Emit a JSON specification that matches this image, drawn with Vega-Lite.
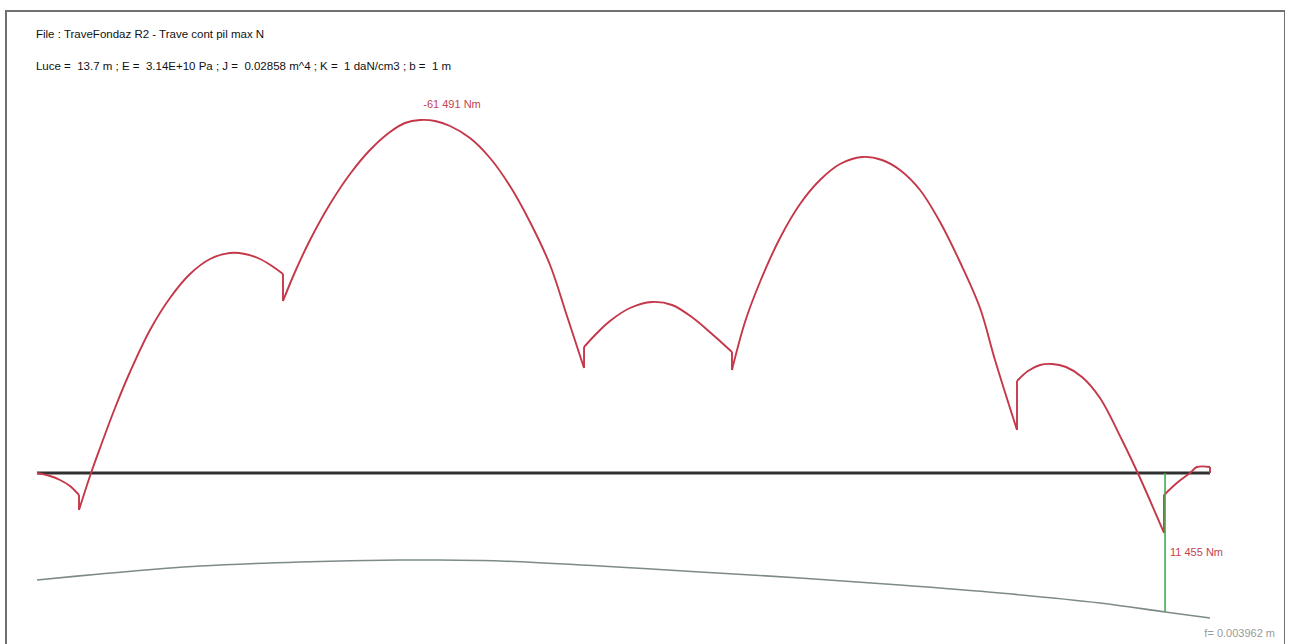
{
  "$schema": "https://vega.github.io/schema/vega-lite/v6.json",
  "width": 1279,
  "height": 640,
  "autosize": "none",
  "padding": {"left": 6, "top": 11, "right": 0, "bottom": 0},
  "background": "white",
  "config": {
    "view": {"stroke": "#707070", "strokeWidth": 2},
    "font": "Liberation Sans"
  },
  "datasets": {
    "moment": [
      {"seg":0,"x":0,"M":0},{"seg":0,"x":0.152,"M":523},{"seg":0,"x":0.269,"M":1219},{"seg":0,"x":0.385,"M":2265},{"seg":0,"x":0.4905,"M":3832},
      {"seg":1,"x":0.4905,"M":6445},{"seg":1,"x":0.619,"M":523},{"seg":1,"x":0.736,"M":-4355},{"seg":1,"x":0.911,"M":-11323},{"seg":1,"x":1.086,"M":-17594},
      {"seg":1,"x":1.320,"M":-24911},{"seg":1,"x":1.553,"M":-30485},{"seg":1,"x":1.787,"M":-34666},{"seg":1,"x":2.021,"M":-37279},{"seg":1,"x":2.254,"M":-38324},
      {"seg":1,"x":2.429,"M":-38150},{"seg":1,"x":2.605,"M":-37279},{"seg":1,"x":2.745,"M":-36059},{"seg":1,"x":2.873,"M":-34666},
      {"seg":2,"x":2.873,"M":-29962},{"seg":2,"x":3.013,"M":-35014},{"seg":2,"x":3.189,"M":-40589},{"seg":2,"x":3.422,"M":-46860},{"seg":2,"x":3.656,"M":-52086},
      {"seg":2,"x":3.889,"M":-56267},{"seg":2,"x":4.123,"M":-59402},{"seg":2,"x":4.298,"M":-60970},{"seg":2,"x":4.473,"M":-61491},{"seg":2,"x":4.649,"M":-61318},
      {"seg":2,"x":4.824,"M":-60447},{"seg":2,"x":5.057,"M":-58357},{"seg":2,"x":5.291,"M":-54873},{"seg":2,"x":5.524,"M":-49995},{"seg":2,"x":5.758,"M":-43724},
      {"seg":2,"x":5.992,"M":-36234},{"seg":2,"x":6.190,"M":-27349},{"seg":2,"x":6.389,"M":-18291},
      {"seg":3,"x":6.389,"M":-21949},{"seg":3,"x":6.541,"M":-24388},{"seg":3,"x":6.692,"M":-26478},{"seg":3,"x":6.926,"M":-28743},{"seg":3,"x":7.183,"M":-29788},
      {"seg":3,"x":7.417,"M":-29267},{"seg":3,"x":7.662,"M":-27000},{"seg":3,"x":7.884,"M":-24214},{"seg":3,"x":8.117,"M":-21078},
      {"seg":4,"x":8.117,"M":-17943},{"seg":4,"x":8.269,"M":-26304},{"seg":4,"x":8.444,"M":-33272},{"seg":4,"x":8.678,"M":-40937},{"seg":4,"x":8.912,"M":-46860},
      {"seg":4,"x":9.145,"M":-51041},{"seg":4,"x":9.379,"M":-53828},{"seg":4,"x":9.636,"M":-55047},{"seg":4,"x":9.869,"M":-54525},{"seg":4,"x":10.079,"M":-52783},
      {"seg":4,"x":10.313,"M":-49299},{"seg":4,"x":10.547,"M":-43724},{"seg":4,"x":10.780,"M":-36756},{"seg":4,"x":11.014,"M":-28743},{"seg":4,"x":11.189,"M":-19685},
      {"seg":4,"x":11.446,"M":-7491},
      {"seg":5,"x":11.446,"M":-16026},{"seg":5,"x":11.574,"M":-17768},{"seg":5,"x":11.715,"M":-18814},{"seg":5,"x":11.855,"M":-18988},{"seg":5,"x":12.018,"M":-18465},
      {"seg":5,"x":12.205,"M":-16723},{"seg":5,"x":12.415,"M":-13065},{"seg":5,"x":12.672,"M":-5749},{"seg":5,"x":12.883,"M":871},{"seg":5,"x":13.163,"M":10452},
      {"seg":6,"x":13.163,"M":3832},{"seg":6,"x":13.326,"M":1568},{"seg":6,"x":13.467,"M":0},{"seg":6,"x":13.548,"M":-1045},{"seg":6,"x":13.7,"M":-1045}
    ],
    "jumps": [
      {"x":0.4905,"M":3832,"M2":6445},
      {"x":2.873,"M":-34666,"M2":-29962},
      {"x":6.389,"M":-18291,"M2":-21949},
      {"x":8.117,"M":-21078,"M2":-17943},
      {"x":11.446,"M":-7491,"M2":-16026},
      {"x":13.163,"M":10452,"M2":3832},
      {"x":13.7,"M":-1045,"M2":0}
    ],
    "beam": [{"x":0,"M":0},{"x":13.7,"M":0}],
    "headLeft": [
      {"x":-0.012,"M":-76300,"text":"File : TraveFondaz R2 - Trave cont pil max N"},
      {"x":-0.012,"M":-70725,"text":"Luce =\u00a0 13.7 m ; E =\u00a0 3.14E+10 Pa ; J =\u00a0 0.02858 m^4 ; K =\u00a0 1 daN/cm3 ; b =\u00a0 1 m"}
    ],
    "valLeft": [{"x":13.233,"M":13936,"text":"11 455 Nm"}],
    "valCenter": [{"x":4.847,"M":-64106,"text":"-61 491 Nm"}],
    "deflection": [
      {"x":0,"d":0.003050},{"x":0.736,"d":0.002879},{"x":1.904,"d":0.002651},{"x":3.072,"d":0.002537},{"x":4.240,"d":0.002480},
      {"x":4.590,"d":0.002480},{"x":5.408,"d":0.002508},{"x":6.576,"d":0.002651},{"x":7.744,"d":0.002822},{"x":8.911,"d":0.002993},
      {"x":10.079,"d":0.003192},{"x":11.247,"d":0.003420},{"x":12.415,"d":0.003705},{"x":13.175,"d":0.003962},{"x":13.700,"d":0.004133}
    ],
    "fmax": [{"x":13.175,"d0":0,"d":0.003962}],
    "flabel": [{"x":14.459,"d":0.004589,"text":"f= 0.003962 m"}]
  },
  "resolve": {"scale": {"y": "independent"}},
  "layer": [
    {
      "layer": [
        {
          "data": {"name": "beam"},
          "mark": {"type": "line", "color": "#303030", "strokeWidth": 3},
          "encoding": {
            "x": {"field": "x", "type": "quantitative", "scale": {"domain": [-0.3621, 14.576], "nice": false, "zero": false}, "axis": null},
            "y": {"field": "M", "type": "quantitative", "scale": {"domain": [-80480, 31008], "reverse": true, "nice": false, "zero": false}, "axis": null}
          }
        },
        {
          "data": {"name": "moment"},
          "mark": {"type": "line", "color": "#c4384a", "strokeWidth": 1.9, "strokeJoin": "round", "interpolate": "catmull-rom"},
          "encoding": {
            "x": {"field": "x", "type": "quantitative"},
            "y": {"field": "M", "type": "quantitative"},
            "detail": {"field": "seg", "type": "nominal"}
          }
        },
        {
          "data": {"name": "jumps"},
          "mark": {"type": "rule", "color": "#c4384a", "strokeWidth": 1.9},
          "encoding": {
            "x": {"field": "x", "type": "quantitative"},
            "y": {"field": "M", "type": "quantitative"},
            "y2": {"field": "M2"}
          }
        },
        {
          "data": {"name": "headLeft"},
          "mark": {"type": "text", "align": "left", "baseline": "middle", "fontSize": 11.5, "color": "#111111"},
          "encoding": {
            "x": {"field": "x", "type": "quantitative"},
            "y": {"field": "M", "type": "quantitative"},
            "text": {"field": "text"}
          }
        },
        {
          "data": {"name": "valLeft"},
          "mark": {"type": "text", "align": "left", "baseline": "middle", "fontSize": 11, "color": "#c4434f"},
          "encoding": {
            "x": {"field": "x", "type": "quantitative"},
            "y": {"field": "M", "type": "quantitative"},
            "text": {"field": "text"}
          }
        },
        {
          "data": {"name": "valCenter"},
          "mark": {"type": "text", "align": "center", "baseline": "middle", "fontSize": 11, "color": "#c4434f"},
          "encoding": {
            "x": {"field": "x", "type": "quantitative"},
            "y": {"field": "M", "type": "quantitative"},
            "text": {"field": "text"}
          }
        }
      ]
    },
    {
      "layer": [
        {
          "data": {"name": "deflection"},
          "mark": {"type": "line", "color": "#7d8a8a", "strokeWidth": 1.6, "interpolate": "catmull-rom"},
          "encoding": {
            "x": {"field": "x", "type": "quantitative"},
            "y": {"field": "d", "type": "quantitative", "scale": {"domain": [-0.013169, 0.005074], "reverse": true, "nice": false, "zero": false}, "axis": null}
          }
        },
        {
          "data": {"name": "fmax"},
          "mark": {"type": "rule", "color": "#3cae4c", "strokeWidth": 1.6},
          "encoding": {
            "x": {"field": "x", "type": "quantitative"},
            "y": {"field": "d0", "type": "quantitative"},
            "y2": {"field": "d"}
          }
        },
        {
          "data": {"name": "flabel"},
          "mark": {"type": "text", "align": "right", "baseline": "middle", "fontSize": 11, "color": "#9a9a9a"},
          "encoding": {
            "x": {"field": "x", "type": "quantitative"},
            "y": {"field": "d", "type": "quantitative"},
            "text": {"field": "text"}
          }
        }
      ]
    }
  ]
}
